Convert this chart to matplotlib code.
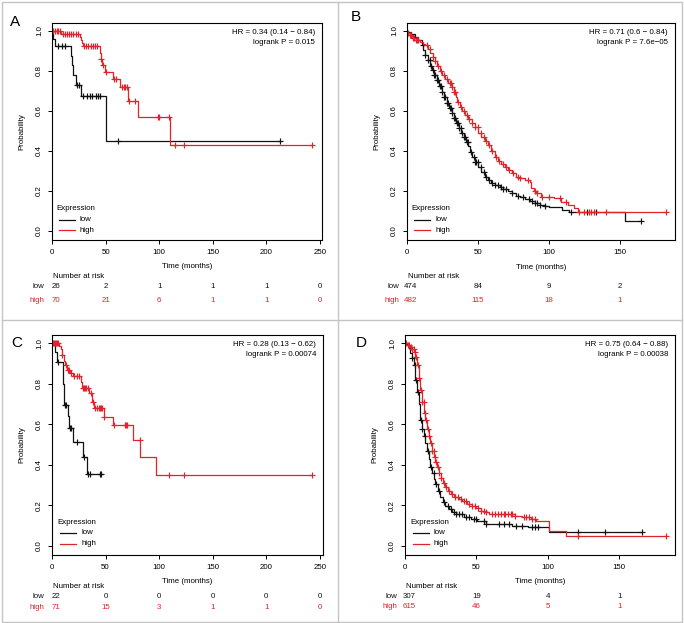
import numpy as np
import matplotlib
matplotlib.use("Agg")
import matplotlib.pyplot as plt
from matplotlib.lines import Line2D
from matplotlib.patches import Rectangle

plt.rcParams['font.family'] = ['Liberation Sans', 'DejaVu Sans']

RED = '#e3232b'
BLACK = '#111111'
W, H = 684, 623

# ---- panel A ----
a_low_t = [0, 1, 3, 17.5, 18.5, 20, 22, 27, 50]
a_low_s = [1.0, 0.962, 0.923, 0.877, 0.83, 0.78, 0.73, 0.673, 0.449]
a_low_cens = [6, 9, 12, 23, 25, 29, 33, 35, 37, 41, 43, 45, 62, 213]
a_high_t = [0, 8, 26, 27, 28, 29, 44.5, 45.5, 47, 49, 57, 63, 71, 80.5, 110.5]
a_high_s = [1.0, 0.985, 0.97, 0.955, 0.94, 0.927, 0.89, 0.86, 0.83, 0.796,
            0.758, 0.718, 0.652, 0.569, 0.428]
a_high_cens = [1, 3, 5, 6, 7, 10, 12, 14, 16, 18, 20, 22, 24, 30, 32, 34, 36, 38,
               40, 42, 46, 48, 50, 58, 60, 65, 67, 68, 70, 72, 77, 99, 100, 109,
               115, 123, 243]
a_risk_x = [0, 50, 100, 150, 200, 250]
a_risk_low = [26, 2, 1, 1, 1, 0]
a_risk_high = [70, 21, 6, 1, 1, 0]
a_stats = ["HR = 0.34 (0.14 \u2212 0.84)", "logrank P = 0.015"]

# ---- panel B ----
b_low_t = [0, 1, 3, 5.6, 8, 10.3, 11.5, 13, 14.5, 16.2, 17.5, 19, 20.9, 22.6,
           24.4, 26, 27.9, 29.6, 31.4, 33, 34.9, 36.6, 38.4, 40, 41.9, 43.1,
           44.5, 46, 47.8, 50.2, 52.5, 54.8, 57, 59.5, 62, 65.4, 68, 71.2, 74,
           77.1, 80, 83, 86.5, 90, 93.5, 97, 100, 109, 114, 153.5]
b_low_s = [1.0, 0.995, 0.985, 0.97, 0.955, 0.93, 0.905, 0.88, 0.855, 0.825,
           0.805, 0.78, 0.754, 0.725, 0.695, 0.67, 0.64, 0.615, 0.59, 0.565,
           0.54, 0.515, 0.49, 0.468, 0.445, 0.425, 0.395, 0.37, 0.345, 0.32,
           0.295, 0.272, 0.255, 0.24, 0.232, 0.222, 0.21, 0.198, 0.188, 0.176,
           0.168, 0.16, 0.148, 0.14, 0.132, 0.124, 0.12, 0.105, 0.097, 0.048]
b_low_cens = [11, 13, 15, 16, 17, 18, 19, 20, 21, 22, 23, 24, 25, 26, 27, 28, 29,
              30, 31, 32, 33, 34, 35, 36, 37, 38, 39, 40, 41, 42, 43, 45, 47, 48,
              49, 50, 52, 54, 56, 58, 60, 62, 64, 66, 68, 70, 74, 78, 82, 86, 88,
              90, 92, 94, 97, 116, 127, 133, 165]
b_high_t = [0, 1, 2, 3.3, 6, 9.1, 11, 12.7, 14.5, 16.2, 18, 19.7, 21.5, 23.2, 25,
            26.7, 29, 31.4, 33, 34.9, 35.5, 37.3, 39, 41, 43.1, 45.5, 47.8, 50.2,
            52.5, 55, 57.2, 59.5, 61.9, 64, 66.6, 69, 71.2, 74, 77.1, 80, 83,
            86.5, 87.6, 89.5, 91.2, 94.7, 104, 108.7, 113.4, 118, 120.5]
b_high_s = [1.0, 0.99, 0.98, 0.965, 0.955, 0.945, 0.937, 0.93, 0.912, 0.89,
            0.87, 0.85, 0.825, 0.8, 0.78, 0.76, 0.74, 0.718, 0.695, 0.67, 0.645,
            0.62, 0.6, 0.58, 0.562, 0.54, 0.518, 0.492, 0.47, 0.448, 0.43, 0.4,
            0.368, 0.352, 0.336, 0.318, 0.303, 0.288, 0.272, 0.263, 0.255,
            0.246, 0.215, 0.2, 0.188, 0.171, 0.163, 0.146, 0.13, 0.113, 0.095]
b_high_cens = [1, 2, 3, 4, 5, 6, 7, 8, 14, 16, 18, 20, 22, 24, 26, 28, 30, 31, 32,
               33, 34, 36, 38, 40, 42, 44, 46, 48, 50, 52, 54, 56, 58, 60, 63, 65,
               68, 70, 72, 75, 78, 80, 85, 90, 92, 95, 100, 108, 112, 121, 125,
               128, 130, 132, 140, 183]
b_risk_x = [0, 50, 100, 150]
b_risk_low = [474, 84, 9, 2]
b_risk_high = [482, 115, 18, 1]
b_stats = ["HR = 0.71 (0.6 \u2212 0.84)", "logrank P = 7.6e\u221205"]

# ---- panel C ----
c_low_t = [0, 3, 4.5, 10, 10.5, 11, 11.5, 15, 16, 20, 28.5, 32.5]
c_low_s = [1.0, 0.955, 0.909, 0.86, 0.80, 0.75, 0.695, 0.64, 0.58, 0.514, 0.44, 0.353]
c_low_cens = [6, 12, 13, 17, 18, 23, 29.5, 34, 35.5, 45, 46]
c_high_t = [0, 7, 8, 9, 11, 12, 14, 17, 20, 27.5, 28, 35, 37, 39.5, 48.4, 56.8,
            75.6, 82.5, 96.8]
c_high_s = [1.0, 0.986, 0.972, 0.943, 0.914, 0.893, 0.868, 0.852, 0.836, 0.81,
            0.778, 0.753, 0.712, 0.679, 0.638, 0.597, 0.523, 0.437, 0.35]
c_high_cens = [1, 2, 3, 4, 5, 6, 9.5, 13, 15, 16, 18, 21, 23, 25, 29, 30, 31, 32,
               34, 36, 38, 40, 42, 44, 45, 46, 47, 49, 58, 68, 69, 70, 82, 109,
               123, 243]
c_risk_x = [0, 50, 100, 150, 200, 250]
c_risk_low = [22, 0, 0, 0, 0, 0]
c_risk_high = [71, 15, 3, 1, 1, 0]
c_stats = ["HR = 0.28 (0.13 \u2212 0.62)", "logrank P = 0.00074"]

# ---- panel D ----
d_low_t = [0, 1.5, 2.6, 3.7, 4.9, 6.1, 7.3, 8.4, 9.6, 10.8, 12, 13.1, 14.3, 15.4,
           16.6, 17.8, 19, 20.1, 21.3, 23, 24.8, 26.5, 28.3, 30.5, 33, 36, 41.2,
           46, 50.5, 56.4, 75, 86, 101]
d_low_s = [1.0, 0.99, 0.975, 0.95, 0.926, 0.89, 0.82, 0.76, 0.70, 0.62, 0.575,
           0.54, 0.505, 0.47, 0.43, 0.39, 0.36, 0.33, 0.306, 0.27, 0.24, 0.218,
           0.198, 0.18, 0.165, 0.155, 0.14, 0.132, 0.124, 0.107, 0.099, 0.091,
           0.066]
d_low_cens = [5, 7, 8, 9, 11, 12, 14, 16, 18, 20, 22, 24, 27, 30, 32, 34, 36, 38,
              40, 43, 45, 48, 50, 55, 57, 66, 69, 73, 78, 82, 89, 91, 93, 121,
              140, 166]
d_high_t = [0, 2, 3.7, 5, 6.1, 7.3, 8.4, 9.6, 10.8, 11.9, 13.1, 14.3, 15.4, 16.6,
            17.8, 19, 20.1, 21.3, 22.5, 23.6, 25, 26.5, 28.3, 30, 32, 34.2, 37.7,
            40, 43.5, 47, 50, 53, 55.2, 59, 77, 82, 88, 91.5, 101, 112.6]
d_high_s = [1.0, 0.993, 0.983, 0.97, 0.955, 0.93, 0.89, 0.83, 0.77, 0.71, 0.655,
            0.62, 0.575, 0.54, 0.505, 0.47, 0.44, 0.415, 0.39, 0.36, 0.335, 0.31,
            0.29, 0.27, 0.255, 0.24, 0.232, 0.222, 0.207, 0.195, 0.185, 0.172,
            0.165, 0.157, 0.149, 0.14, 0.132, 0.124, 0.075, 0.05]
d_high_cens = [1, 2, 3, 4, 5, 6, 7, 8, 9, 10, 11, 12, 13, 14, 15, 16, 17, 18, 19,
               20, 21, 22, 23, 24, 25, 27, 29, 31, 33, 35, 37, 39, 41, 43, 45, 47,
               49, 51, 53, 55, 57, 61, 63, 65, 67, 69, 70, 72, 74, 75, 77, 83, 85,
               87, 89, 91, 121, 183]
d_risk_x = [0, 50, 100, 150]
d_risk_low = [307, 19, 4, 1]
d_risk_high = [615, 46, 5, 1]
d_stats = ["HR = 0.75 (0.64 \u2212 0.88)", "logrank P = 0.00038"]


def km_curve(ax, t, s, cens, color):
    t = np.asarray(t, float)
    s = np.asarray(s, float)
    cens = np.asarray(cens, float)
    t_end = max(t[-1], cens.max())
    ax.step(np.append(t, t_end), np.append(s, s[-1]), where='post',
            color=color, lw=0.9)
    cs = s[np.searchsorted(t, cens, side='right') - 1]
    ax.plot(cens, cs, '+', color=color, ms=4.8, mew=0.85, ls='none')


def panel(box, letter, xmax, low, high, risk_x, risk_low, risk_high, stats,
          below, leg):
    left, top, right, bottom = box
    wpx, hpx = right - left, bottom - top
    ax = fig.add_axes([left / W, 1 - bottom / H, wpx / W, hpx / H])
    km_curve(ax, *low, BLACK)
    km_curve(ax, *high, RED)
    ax.set_xlim(0, xmax)
    ax.set_ylim(-0.045, 1.04)
    ax.set_yticks([0, 0.2, 0.4, 0.6, 0.8, 1.0])
    ax.set_yticklabels(['0.0', '0.2', '0.4', '0.6', '0.8', '1.0'],
                       rotation=90, va='center')
    ax.set_xticks(risk_x)
    ax.tick_params(length=3, width=0.7, pad=3.5, labelsize=5.7)
    for sp in ax.spines.values():
        sp.set_linewidth(0.8)

    ax.set_ylabel('Probability', fontsize=5.7, va='center')
    ax.yaxis.set_label_coords(-30.5 / wpx, 0.5)
    t_off, nar_off, low_off, high_off = below
    ax.set_xlabel('Time (months)', fontsize=5.7, va='center')
    ax.xaxis.set_label_coords(0.5, -t_off / hpx)

    # stats text top right
    for i, line in enumerate(stats):
        ax.annotate(line, (1, 1), xycoords='axes fraction',
                    xytext=(-7, -9.5 - 10 * i), textcoords='offset pixels',
                    ha='right', va='center', fontsize=5.7)

    # legend
    lx, ly = leg
    ax.annotate('Expression', (0, 0), xycoords='axes fraction',
                xytext=(lx, ly), textcoords='offset pixels',
                ha='left', va='center', fontsize=5.7)
    for i, (lab, col) in enumerate([('low', BLACK), ('high', RED)]):
        yy = (ly - 10.5 * (i + 1)) / hpx
        ax.plot([(lx + 3) / wpx, (lx + 19) / wpx], [yy, yy], color=col,
                lw=0.9, transform=ax.transAxes, clip_on=False)
        ax.annotate(lab, (0, 0), xycoords='axes fraction',
                    xytext=(lx + 24, ly - 10.5 * (i + 1)),
                    textcoords='offset pixels',
                    ha='left', va='center', fontsize=5.7)

    # number at risk table
    trans = ax.get_xaxis_transform()
    ax.annotate('Number at risk', (0, 0), xycoords=trans,
                xytext=(1, -nar_off), textcoords='offset pixels',
                ha='left', va='center', fontsize=5.7, annotation_clip=False)
    for lab, vals, col, off in [('low', risk_low, BLACK, low_off),
                                ('high', risk_high, RED, high_off)]:
        ax.annotate(lab, (0, 0), xycoords=trans, xytext=(-8, -off),
                    textcoords='offset pixels', ha='right', va='center',
                    fontsize=5.7, color=col, annotation_clip=False)
        for j, (x, v) in enumerate(zip(risk_x, vals)):
            dx = 4 if j == 0 else 0
            ax.annotate(str(v), (x, 0), xycoords=trans, xytext=(dx, -off),
                        textcoords='offset pixels', ha='center', va='center',
                        fontsize=5.7, color=col, annotation_clip=False)

    fig.text(letter[1] / W, 1 - letter[2] / H, letter[0], fontsize=11,
             ha='center', va='center')
    return ax


fig = plt.figure(figsize=(W / 100, H / 100), dpi=100)

panel((52, 23, 322, 240), ('A', 15.5, 21.5), 252,
      (a_low_t, a_low_s, a_low_cens), (a_high_t, a_high_s, a_high_cens),
      a_risk_x, a_risk_low, a_risk_high, a_stats, (27, 37, 47, 60), (4, 31))
panel((407, 23, 675, 240), ('B', 356, 17), 189,
      (b_low_t, b_low_s, b_low_cens), (b_high_t, b_high_s, b_high_cens),
      b_risk_x, b_risk_low, b_risk_high, b_stats, (27.5, 36, 47, 60), (4, 31))
panel((52, 335, 323, 555), ('C', 17, 343), 253,
      (c_low_t, c_low_s, c_low_cens), (c_high_t, c_high_s, c_high_cens),
      c_risk_x, c_risk_low, c_risk_high, c_stats, (26.5, 31, 41.5, 52.5), (5, 32.5))
panel((405, 335, 675, 555), ('D', 361, 343), 189,
      (d_low_t, d_low_s, d_low_cens), (d_high_t, d_high_s, d_high_cens),
      d_risk_x, d_risk_low, d_risk_high, d_stats, (26.5, 31, 41.5, 52), (5, 32.5))

# grey frame around the four panels
frame_col = '#c4c4c4'
fig.add_artist(Rectangle((1.5 / W, 1 - 621.5 / H), 680.5 / W, 620 / H,
                         fill=False, ec=frame_col, lw=1.0,
                         transform=fig.transFigure))
fig.add_artist(Line2D([338 / W, 338 / W], [1 - 621.5 / H, 1 - 1.5 / H],
                      color=frame_col, lw=1.0, transform=fig.transFigure))
fig.add_artist(Line2D([1.5 / W, 682 / W], [1 - 320 / H, 1 - 320 / H],
                      color=frame_col, lw=1.0, transform=fig.transFigure))

fig.savefig('out.png', dpi=100)
